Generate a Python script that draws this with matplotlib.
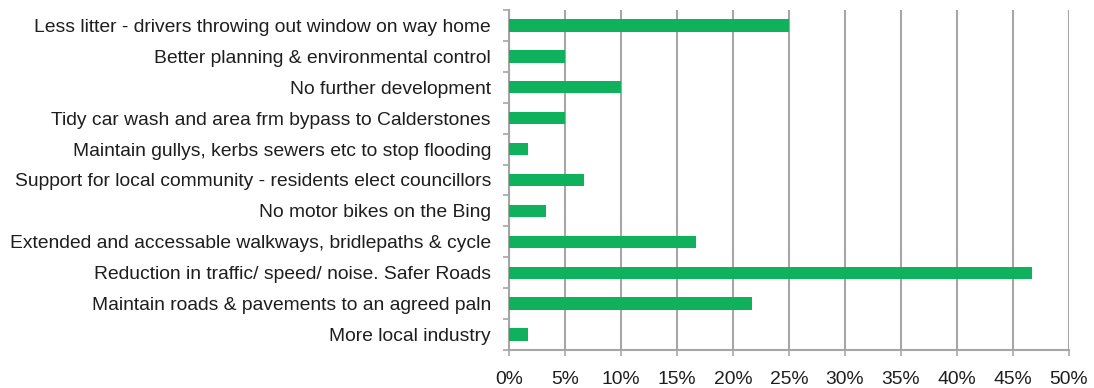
import matplotlib
matplotlib.use("Agg")
import matplotlib.pyplot as plt
from matplotlib.ticker import FixedLocator, PercentFormatter

plt.rcParams['font.family'] = ['Liberation Sans', 'DejaVu Sans']

categories = [
    "Less litter - drivers throwing out window on way home",
    "Better planning & environmental control",
    "No further development",
    "Tidy car wash and area frm bypass to Calderstones",
    "Maintain gullys, kerbs sewers etc to stop flooding",
    "Support for local community - residents elect councillors",
    "No motor bikes on the Bing",
    "Extended and accessable walkways, bridlepaths & cycle",
    "Reduction in traffic/ speed/ noise. Safer Roads",
    "Maintain roads & pavements to an agreed paln",
    "More local industry",
]
# share of respondents, in percent
percent = [25.0, 5.0, 10.0, 5.0, 1.67, 6.67, 3.33, 16.67, 46.67, 21.67, 1.67]

green = "#10b15c"
grid_grey = "#a6a6a6"
text_col = "#1e1e1e"

fig = plt.figure(figsize=(10.94, 3.88), dpi=100)
ax = fig.add_axes([509 / 1094, 1 - 350 / 388, 560 / 1094, 340 / 388])

pos = list(range(len(categories)))
ax.barh(pos, percent, height=0.4, color=green, zorder=3)

ax.set_xlim(0, 50)
ax.set_ylim(len(categories) - 0.5, -0.5)
ax.set_xticks(range(0, 51, 5))
ax.xaxis.set_major_formatter(PercentFormatter(decimals=0))
ax.grid(axis='x', color=grid_grey, linewidth=1.5, zorder=0)

ax.set_yticks(pos)
ax.set_yticklabels(categories)
ax.yaxis.set_minor_locator(FixedLocator([p + 0.5 for p in range(-1, len(categories))]))
ax.tick_params(axis='y', which='major', length=0, pad=13, labelsize=13.9, labelcolor=text_col)
ax.tick_params(axis='y', which='minor', length=4, width=1.2, color=grid_grey)
ax.tick_params(axis='x', length=4, width=1.2, color=grid_grey, pad=11,
               labelsize=13.9, labelcolor=text_col)

for side in ['top', 'right']:
    ax.spines[side].set_visible(False)
for side in ['left', 'bottom']:
    ax.spines[side].set_color(grid_grey)
    ax.spines[side].set_linewidth(1.5)

fig.savefig("out.png", dpi=100)
